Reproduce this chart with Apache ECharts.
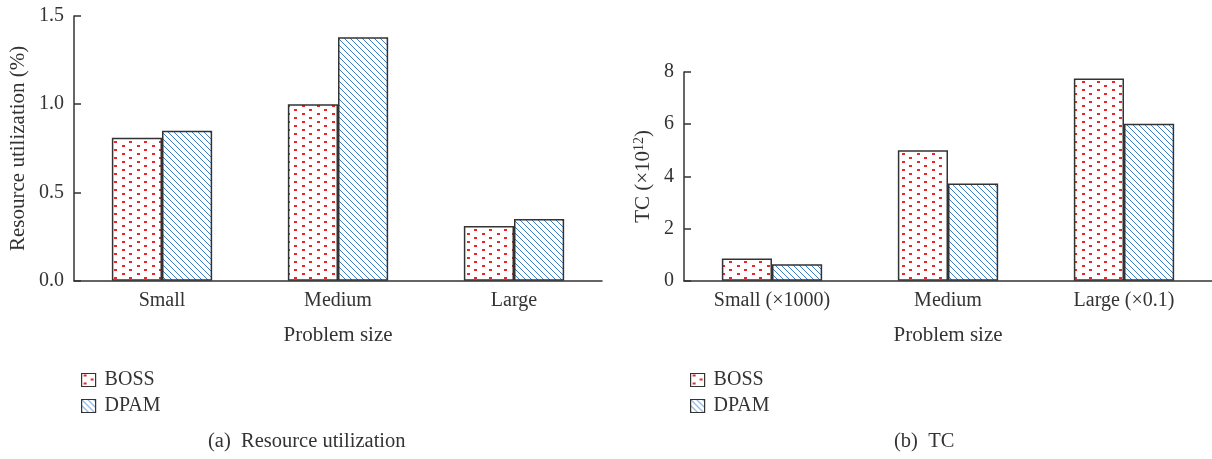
<!DOCTYPE html>
<html>
<head>
    <meta charset="UTF-8">
    <title>Resource utilization / TC</title>
    <style type="text/css">
        html, body {margin:0;padding:0;background:#fff;}
        #main {width:1212px;height:459px;}
    </style>
</head>
<body>
<div id="main"></div>
<script src="https://cdn.jsdelivr.net/npm/echarts@6/dist/echarts.min.js"></script>
<script type="text/javascript">
    // data
    var seriesNames = ['BOSS', 'DPAM'];
    var catsA = ['Small', 'Medium', 'Large'];
    var catsB = ['Small (×1000)', 'Medium', 'Large (×0.1)'];
    var bossA = [0.81, 1.0, 0.31];
    var dpamA = [0.85, 1.38, 0.35];
    var bossB = [0.85, 5.0, 7.75];
    var dpamB = [0.63, 3.73, 6.02];

    var FONT = '"Liberation Serif", "DejaVu Serif", serif';
    var INK = '#333';
    var FS = 20;

    // red dotted fill
    function dotPattern() {
        var c = document.createElement('canvas');
        c.width = 15; c.height = 8;
        var ctx = c.getContext('2d');
        ctx.fillStyle = '#fff';
        ctx.fillRect(0, 0, 15, 8);
        ctx.fillStyle = '#e8262b';
        ctx.fillRect(2, 1, 3, 2);
        ctx.fillRect(9, 5, 3, 2);
        return {image: c, repeat: 'repeat'};
    }
    // blue diagonal hatch
    function hatchPattern() {
        var c = document.createElement('canvas');
        c.width = 6; c.height = 6;
        var ctx = c.getContext('2d');
        ctx.fillStyle = '#fff';
        ctx.fillRect(0, 0, 6, 6);
        ctx.strokeStyle = '#3b7dc4';
        ctx.lineWidth = 1;
        [-6, 0, 6].forEach(function (k) {
            ctx.beginPath();
            ctx.moveTo(k, 0);
            ctx.lineTo(k + 6, 6);
            ctx.stroke();
        });
        return {image: c, repeat: 'repeat'};
    }
    var dots = dotPattern();
    var hatch = hatchPattern();

    function xAxis(idx, cats) {
        return {
            type: 'category', gridIndex: idx, data: cats,
            name: 'Problem size', nameLocation: 'middle', nameGap: 44,
            nameTextStyle: {fontFamily: FONT, fontSize: 21, color: INK},
            axisLine: {lineStyle: {color: INK, width: 1.5}},
            axisTick: {inside: true, length: 6, lineStyle: {color: INK, width: 1.5}},
            axisLabel: {fontFamily: FONT, fontSize: FS, color: INK, margin: 10}
        };
    }
    function yAxis(idx, max, interval, digits, name, gap) {
        return {
            type: 'value', gridIndex: idx, min: 0, max: max, interval: interval,
            name: name, nameLocation: 'middle', nameGap: gap,
            nameTextStyle: {fontFamily: FONT, fontSize: 21, color: INK,
                rich: {n: {fontFamily: FONT, fontSize: 21, color: INK, lineHeight: 22},
                       sup: {fontFamily: FONT, fontSize: 14, color: INK, lineHeight: 22, verticalAlign: 'top', padding: [0, 0, 7, 0]}}},
            splitLine: {show: false},
            axisLine: {show: true, lineStyle: {color: INK, width: 1.5}},
            axisTick: {show: true, inside: true, length: 7, lineStyle: {color: INK, width: 1.5}},
            axisLabel: {fontFamily: FONT, fontSize: FS, color: INK, margin: 10,
                formatter: function (v) { return v.toFixed(digits); }}
        };
    }
    function bar(name, idx, data, fill) {
        return {
            name: name, type: 'bar', xAxisIndex: idx, yAxisIndex: idx, data: data,
            barGap: 0, barCategoryGap: '43%',
            itemStyle: {color: fill, borderColor: INK, borderWidth: 1.5},
            emphasis: {disabled: true}, animation: false
        };
    }
    function legend(left) {
        return {
            data: seriesNames, orient: 'vertical', left: left, top: 365,
            icon: 'rect', itemWidth: 14, itemHeight: 13, itemGap: 6,
            selectedMode: false,
            textStyle: {fontFamily: FONT, fontSize: FS, color: INK, padding: [0, 0, 0, 4]},
            itemStyle: {borderColor: INK, borderWidth: 1.2}
        };
    }

    var chart = echarts.init(document.getElementById('main'));
    var option = {
        backgroundColor: '#fff',
        animation: false,
        title: [
            {text: '(a)  Resource utilization', left: 203, top: 426,
             textStyle: {fontFamily: FONT, fontSize: 20.5, fontWeight: 'normal', color: INK}},
            {text: '(b)  TC', left: 889, top: 426,
             textStyle: {fontFamily: FONT, fontSize: 20.5, fontWeight: 'normal', color: INK}}
        ],
        legend: [legend(76), legend(685)],
        grid: [
            {left: 74, top: 16, width: 528, height: 264.7},
            {left: 684, top: 72, width: 528, height: 208.7}
        ],
        xAxis: [xAxis(0, catsA), xAxis(1, catsB)],
        yAxis: [
            yAxis(0, 1.5, 0.5, 1, 'Resource utilization (%)', 45),
            yAxis(1, 8, 2, 0, '{n|TC (×10}{sup|12}{n|)}', 30)
        ],
        series: [
            bar(seriesNames[0], 0, bossA, dots),
            bar(seriesNames[1], 0, dpamA, hatch),
            bar(seriesNames[0], 1, bossB, dots),
            bar(seriesNames[1], 1, dpamB, hatch)
        ]
    };
    chart.setOption(option);
</script>
</body>
</html>
